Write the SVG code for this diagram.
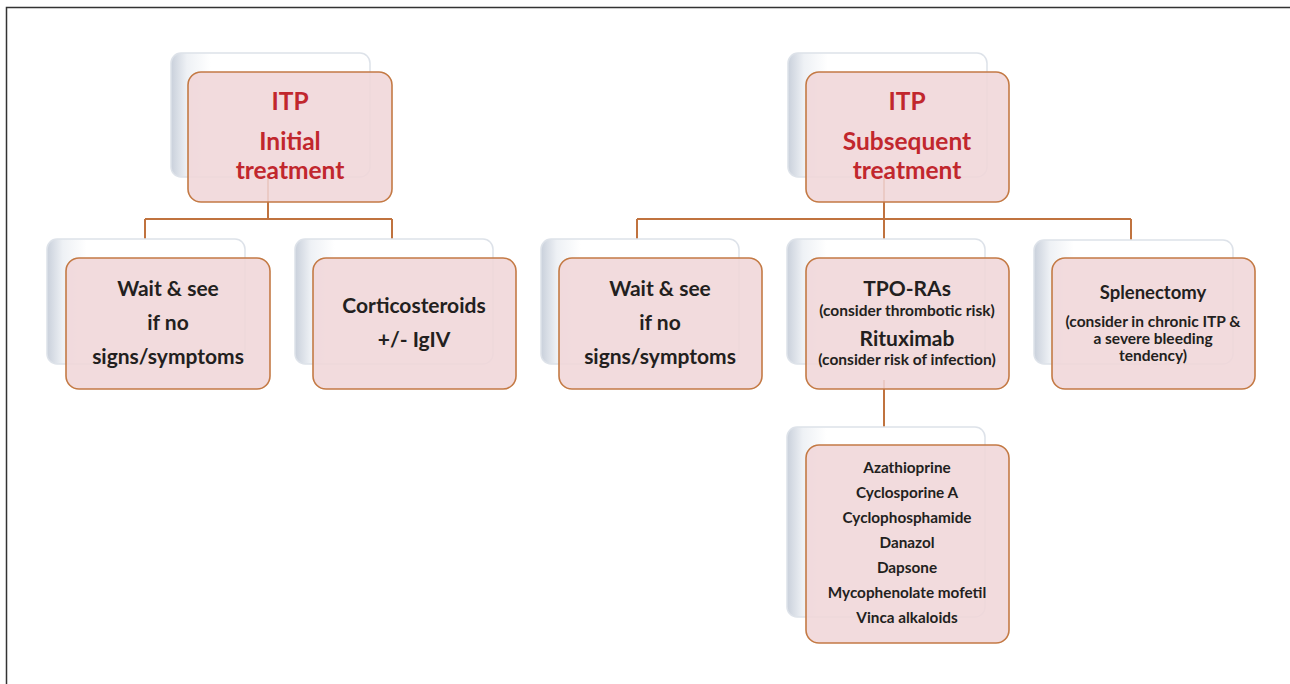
<svg xmlns="http://www.w3.org/2000/svg" width="1290" height="684" viewBox="0 0 1290 684">
<defs>
<linearGradient id="sg" x1="0" y1="0" x2="1" y2="0">
<stop offset="0" stop-color="#C9D0DB"/>
<stop offset="0.08" stop-color="#EEF1F5"/>
<stop offset="0.2" stop-color="#FFFFFF"/>
<stop offset="1" stop-color="#FFFFFF"/>
</linearGradient>
<style>
.sh{fill:url(#sg);stroke:#DDE2E9;stroke-width:1.5}
.fr{fill:#F0D6D8;fill-opacity:0.88;stroke:#C47A45;stroke-width:1.6}
.cn{stroke:#C0733F;stroke-width:2;fill:none}
.t{font-family:Lato,"Open Sans",sans-serif;font-weight:bold;text-anchor:middle;fill:#231F20}
.h{fill:#C1272D;font-size:24.5px}
.b{font-size:21px}
.s{font-size:15.5px}
.m{font-size:18.5px}
.l{font-size:15.3px}
</style>
</defs>
<rect width="1290" height="684" fill="#FFFFFF"/>
<path d="M6.5,684 V7.5 H1290" stroke="#333333" stroke-width="1.5" fill="none"/>
<g id="connectors">
<path class="cn" d="M268,170 V219 M145,219 H392 M145,219 V245 M392,219 V245"/>
<path class="cn" d="M884,170 V245 M637,219 H1131 M637,219 V245 M1131,219 V245"/>
<path class="cn" d="M884,380 V432"/>
</g>
<g id="n1">
<rect class="sh" x="171" y="53" width="199" height="124" rx="10"/>
<rect class="fr" x="188" y="72" width="204" height="130" rx="13"/>
<text class="t h" x="290" y="110">ITP</text>
<text class="t h" x="290" y="150">Initial</text>
<text class="t h" x="290" y="179">treatment</text>
</g>
<g id="n2">
<rect class="sh" x="47" y="239" width="198" height="125" rx="10"/>
<rect class="fr" x="66" y="258" width="204" height="131" rx="13"/>
<text class="t b" x="168" y="296">Wait &amp; see</text>
<text class="t b" x="168" y="330">if no</text>
<text class="t b" x="168" y="364">signs/symptoms</text>
</g>
<g id="n3">
<rect class="sh" x="295" y="239" width="198" height="125" rx="10"/>
<rect class="fr" x="313" y="258" width="203" height="131" rx="13"/>
<text class="t b" x="414" y="313">Corticosteroids</text>
<text class="t b" x="414" y="347">+/- IgIV</text>
</g>
<g id="n4">
<rect class="sh" x="788" y="53" width="199" height="124" rx="10"/>
<rect class="fr" x="806" y="72" width="203" height="130" rx="13"/>
<text class="t h" x="907" y="110">ITP</text>
<text class="t h" x="907" y="150">Subsequent</text>
<text class="t h" x="907" y="179">treatment</text>
</g>
<g id="n5">
<rect class="sh" x="541" y="239" width="198" height="125" rx="10"/>
<rect class="fr" x="559" y="258" width="203" height="131" rx="13"/>
<text class="t b" x="660" y="296">Wait &amp; see</text>
<text class="t b" x="660" y="330">if no</text>
<text class="t b" x="660" y="364">signs/symptoms</text>
</g>
<g id="n6">
<rect class="sh" x="787" y="239" width="198" height="125" rx="10"/>
<rect class="fr" x="806" y="258" width="203" height="131" rx="13"/>
<text class="t b" x="907" y="296">TPO-RAs</text>
<text class="t s" x="907" y="316">(consider thrombotic risk)</text>
<text class="t b" x="907" y="346">Rituximab</text>
<text class="t s" x="907" y="365">(consider risk of infection)</text>
</g>
<g id="n7">
<rect class="sh" x="1034" y="240" width="199" height="124" rx="10"/>
<rect class="fr" x="1052" y="258" width="203" height="131" rx="13"/>
<text class="t m" x="1153" y="299">Splenectomy</text>
<text class="t s" x="1153" y="327">(consider in chronic ITP &amp;</text>
<text class="t s" x="1153" y="344">a severe bleeding</text>
<text class="t s" x="1153" y="361">tendency)</text>
</g>
<g id="n8">
<rect class="sh" x="787" y="427" width="198" height="190" rx="10"/>
<rect class="fr" x="806" y="445" width="203" height="198" rx="13"/>
<text class="t l" x="907" y="473">Azathioprine</text>
<text class="t l" x="907" y="498">Cyclosporine A</text>
<text class="t l" x="907" y="523">Cyclophosphamide</text>
<text class="t l" x="907" y="548">Danazol</text>
<text class="t l" x="907" y="573">Dapsone</text>
<text class="t l" x="907" y="598">Mycophenolate mofetil</text>
<text class="t l" x="907" y="623">Vinca alkaloids</text>
</g>
</svg>
